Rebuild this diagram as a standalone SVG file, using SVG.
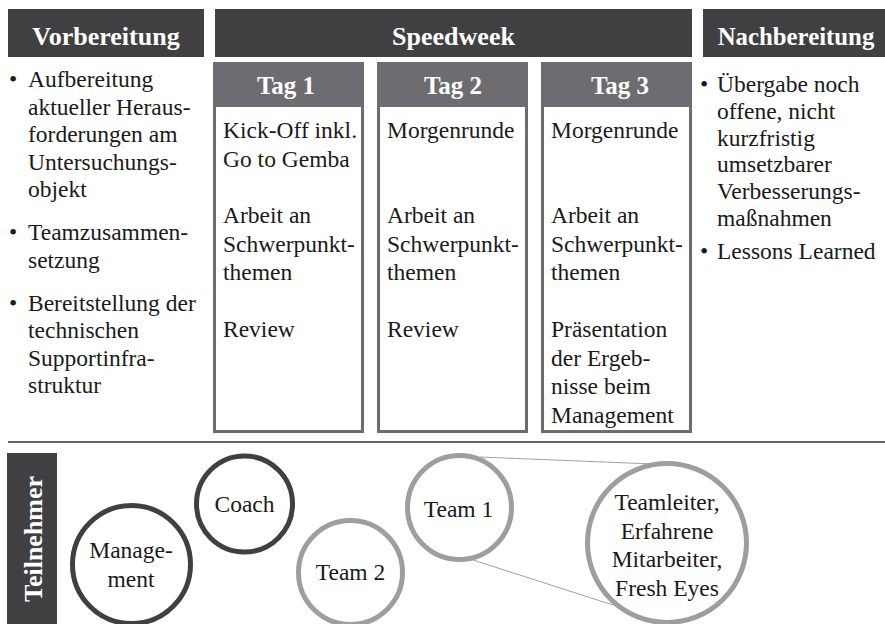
<svg xmlns="http://www.w3.org/2000/svg" width="885" height="624" viewBox="0 0 885 624" font-family="Liberation Serif, Times New Roman, serif">
<style>
.hdr{fill:#404042}
.hdrt{font-weight:bold;font-size:26px;fill:#ffffff;text-anchor:middle}
.tagt{font-weight:bold;font-size:25px;fill:#ffffff;text-anchor:middle}
.txt{font-size:23.5px;fill:#1a1a1a}
.mid{text-anchor:middle}
.box{fill:#ffffff;stroke:#6d6d71;stroke-width:3}
.boxh{fill:#6d6d71}
.dark{fill:#ffffff;stroke:#404042;stroke-width:5}
.gray{fill:#ffffff;stroke:#9d9ea2;stroke-width:5}
.conn{stroke:#a0a0a2;stroke-width:1;fill:none}
</style>

<g id="vorbereitung">
<rect class="hdr" x="8" y="9" width="196" height="48"/>
<text class="hdrt" x="106" y="45" font-family="Liberation Serif, serif">Vorbereitung</text>
<text class="txt" font-family="Liberation Serif, serif"><tspan x="9" y="87">•</tspan><tspan x="28" y="87">Aufbereitung</tspan><tspan x="28" y="114.5">aktueller Heraus-</tspan><tspan x="28" y="142">forderungen am</tspan><tspan x="28" y="169.5">Untersuchungs-</tspan><tspan x="28" y="197">objekt</tspan></text>
<text class="txt" font-family="Liberation Serif, serif"><tspan x="9" y="240">•</tspan><tspan x="28" y="240">Teamzusammen-</tspan><tspan x="28" y="267.5">setzung</tspan></text>
<text class="txt" font-family="Liberation Serif, serif"><tspan x="9" y="310.5">•</tspan><tspan x="28" y="310.5">Bereitstellung der</tspan><tspan x="28" y="338">technischen</tspan><tspan x="28" y="365.5">Supportinfra-</tspan><tspan x="28" y="393">struktur</tspan></text>
</g>

<g id="speedweek">
<rect class="hdr" x="215" y="9" width="477" height="48"/>
<text class="hdrt" x="453.5" y="45" font-family="Liberation Serif, serif">Speedweek</text>
</g>

<g id="tag1">
<rect class="box" x="214.5" y="63.5" width="148" height="368"/>
<rect class="boxh" x="213" y="62" width="151" height="45"/>
<text class="tagt" x="286" y="94" font-family="Liberation Serif, serif">Tag 1</text>
<text class="txt" font-family="Liberation Serif, serif"><tspan x="223" y="138">Kick-Off inkl.</tspan><tspan x="223" y="166.5">Go to Gemba</tspan><tspan x="223" y="223">Arbeit an</tspan><tspan x="223" y="251.5">Schwerpunkt-</tspan><tspan x="223" y="280">themen</tspan><tspan x="223" y="337">Review</tspan></text>
</g>

<g id="tag2">
<rect class="box" x="378.5" y="63.5" width="148" height="368"/>
<rect class="boxh" x="377" y="62" width="151" height="45"/>
<text class="tagt" x="453" y="94" font-family="Liberation Serif, serif">Tag 2</text>
<text class="txt" font-family="Liberation Serif, serif"><tspan x="387" y="138">Morgenrunde</tspan><tspan x="387" y="223">Arbeit an</tspan><tspan x="387" y="251.5">Schwerpunkt-</tspan><tspan x="387" y="280">themen</tspan><tspan x="387" y="337">Review</tspan></text>
</g>

<g id="tag3">
<rect class="box" x="542.5" y="63.5" width="148" height="368"/>
<rect class="boxh" x="541" y="62" width="151" height="45"/>
<text class="tagt" x="620" y="94" font-family="Liberation Serif, serif">Tag 3</text>
<text class="txt" font-family="Liberation Serif, serif"><tspan x="551" y="138">Morgenrunde</tspan><tspan x="551" y="223">Arbeit an</tspan><tspan x="551" y="251.5">Schwerpunkt-</tspan><tspan x="551" y="280">themen</tspan><tspan x="551" y="337">Präsentation</tspan><tspan x="551" y="365.5">der Ergeb-</tspan><tspan x="551" y="394">nisse beim</tspan><tspan x="551" y="422.5">Management</tspan></text>
</g>

<g id="nachbereitung">
<rect class="hdr" x="703" y="9" width="182" height="48"/>
<text class="hdrt" x="796" y="45" font-size="24.8" style="font-size:24.8px" font-family="Liberation Serif, serif">Nachbereitung</text>
<text class="txt" font-family="Liberation Serif, serif"><tspan x="700" y="92">•</tspan><tspan x="717" y="92">Übergabe noch</tspan><tspan x="717" y="119">offene, nicht</tspan><tspan x="717" y="145.5">kurzfristig</tspan><tspan x="717" y="172">umsetzbarer</tspan><tspan x="717" y="199">Verbesserungs-</tspan><tspan x="717" y="225.5">maßnahmen</tspan></text>
<text class="txt" font-family="Liberation Serif, serif"><tspan x="700" y="259">•</tspan><tspan x="717" y="259">Lessons Learned</tspan></text>
</g>

<g id="divider">
<line x1="8" y1="442" x2="885" y2="442" stroke="#333335" stroke-width="1.5"/>
</g>

<g id="teilnehmer">
<rect class="hdr" x="7" y="453" width="50" height="171"/>
<text class="hdrt" transform="translate(42 539) rotate(-90)" x="0" y="0" font-family="Liberation Serif, serif">Teilnehmer</text>
</g>

<g id="connectors">
<line class="conn" x1="480" y1="457" x2="653" y2="464"/>
<line class="conn" x1="473" y1="560" x2="613" y2="605"/>
</g>

<g id="management">
<circle class="dark" cx="131.5" cy="564.5" r="59"/>
<text class="txt mid" font-family="Liberation Serif, serif"><tspan x="131" y="558">Manage-</tspan><tspan x="131" y="587">ment</tspan></text>
</g>

<g id="coach">
<circle class="dark" cx="244.5" cy="504" r="48"/>
<text class="txt mid" x="244.5" y="512" font-family="Liberation Serif, serif">Coach</text>
</g>

<g id="team2">
<circle class="gray" cx="350.5" cy="572.5" r="52"/>
<text class="txt mid" x="350.5" y="580" font-family="Liberation Serif, serif">Team 2</text>
</g>

<g id="team1">
<circle class="gray" cx="459.5" cy="507.5" r="52"/>
<text class="txt mid" x="458.5" y="517" font-family="Liberation Serif, serif">Team 1</text>
</g>

<g id="teammitglieder">
<circle class="gray" cx="667" cy="543" r="79.5"/>
<text class="txt mid" font-family="Liberation Serif, serif"><tspan x="667" y="510">Teamleiter,</tspan><tspan x="667" y="538.5">Erfahrene</tspan><tspan x="667" y="567">Mitarbeiter,</tspan><tspan x="667" y="595.5">Fresh Eyes</tspan></text>
</g>
</svg>
